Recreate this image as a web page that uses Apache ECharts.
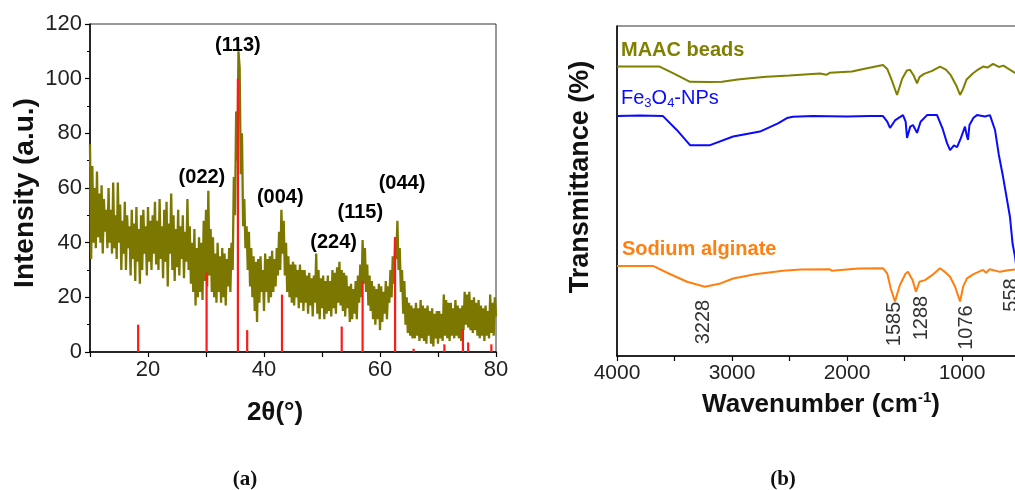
<!DOCTYPE html>
<html>
<head>
<meta charset="utf-8">
<script src="https://cdn.jsdelivr.net/npm/echarts@6/dist/echarts.min.js"></script>
<style>
html,body{margin:0;padding:0;background:#fff;}
#c{width:1015px;height:490px;}
</style>
</head>
<body>
<div id="c"></div>
<script>
// ---------- (a) XRD ----------
var xrdStart = 10;   // 2theta of first sample
var xrdStep = 0.2;   // scan step
var xrdIntensity = [
  76,34,68,40,60, 38,66,42,58,40, 61,36,56,44,52, 38,60,40,52,36,
  62,38,50,34,62, 40,54,30,48,36, 55,30,50,38,46, 28,52,34,47,26,
  53,33,45,25,50, 30,52,36,46,28, 53,33,48,30,50, 36,55,32,48,30,
  56,34,46,27,52, 33,55,24,47,36, 58,30,50,26,45, 31,52,28,46,34,
  50,27,44,33,56, 30,46,25,40,22, 45,17,38,20,42, 22,40,19,48,26,
  52,24,59,28,45, 22,42,20,36,18, 40,22,35,18,38, 20,36,17,34,24,
  38,22,40,30,64, 50,88,70,110,104, 65,80,46,56,38, 46,30,44,24,38,
  20,35,15,33,11, 34,18,35,22,30, 15,36,22,34,18, 35,20,37,22,34,
  24,38,28,44,30, 52,36,48,28,40, 22,35,20,32,18, 33,17,32,20,30,
  16,32,18,30,15, 30,18,28,14,29, 17,27,13,28,18, 36,14,30,12,27,
  16,28,12,26,14, 28,15,26,13,30, 16,29,14,31,18, 33,17,30,15,29,
  13,28,16,24,11, 25,12,23,14,26, 12,28,18,32,20, 41,25,38,22,32,
  17,28,15,26,12, 24,10,23,12,25, 8,24,11,22,14, 26,12,24,18,30,
  20,35,25,42,34, 48,30,38,22,30, 14,26,10,20,7, 18,6,17,5,16,
  5,18,6,16,4, 19,5,17,4,16, 3,17,6,15,3, 16,2,14,5,15,
  3,15,5,14,4, 21,6,19,5,18, 4,18,6,16,5, 19,6,17,5,16,
  4,17,8,22,10, 21,9,22,8,19, 7,20,8,18,6, 19,5,17,6,16,
  4,17,6,15,5, 21,7,18,6,20, 13
];
// reference pattern sticks (red)
var refAngle = [18.3, 30.1, 35.5, 37.1, 43.1, 53.4, 57.0, 62.6, 65.8, 71.1, 74.3, 75.2, 79.2];
var refIntensity = [10, 29, 100, 8, 21, 9.3, 26, 42, 1.2, 2.8, 8.4, 3.5, 2.8];
// Miller index annotations
var hklText = ['(022)', '(113)', '(004)', '(224)', '(115)', '(044)'];
var hklAngle = [29.3, 35.5, 42.8, 52.0, 56.6, 63.8];
var hklPos = [63.7, 112, 56.7, 40.2, 51.2, 61.8];

// ---------- (b) FTIR ----------
var maacWn = [4000,3630,3500,3365,3200,3087,2950,2843,2700,2500,2235,2180,2150,1957,1826,1687,1650,1610,1565,1520,1480,1452,1420,1391,1370,1330,1260,1191,1140,1100,1050,1017,990,960,904,860,817,780,730,680,640,609,539,500];
var maacT  = [87.7,87.7,85.5,83.1,83.0,83.1,83.8,84.2,84.6,85.0,85.6,85.2,85.8,86.2,87.2,88.2,87.0,83.5,79.1,84.0,86.5,86.7,85.0,82.6,84.5,85.5,86.4,87.7,86.8,85.2,82.0,79.1,81.0,83.8,85.7,86.8,87.7,87.4,88.5,87.6,88.0,87.3,85.8,85.0];
var feWn = [4000,3800,3600,3480,3365,3191,2990,2757,2600,2522,2470,2300,2000,1800,1687,1650,1626,1580,1513,1490,1478,1450,1426,1391,1360,1304,1217,1170,1130,1104,1070,1043,1010,974,960,948,935,900,870,800,757,713,680,643,583,560,539,520];
var feT  = [72.7,72.9,72.7,68.5,63.9,63.9,66.5,68.0,70.5,72.1,72.5,72.7,72.6,72.7,72.7,71.0,69.1,71.5,73.0,71.0,66.1,69.5,70.0,67.6,71.0,73.0,73.0,69.0,64.5,62.4,63.8,63.3,66.0,69.5,67.0,65.5,70.0,72.2,73.0,72.6,73.0,68.5,61.0,54.3,42.2,34.0,30.1,25.0];
var saWn = [4000,3687,3550,3391,3235,3100,2990,2800,2557,2400,2150,2130,1900,1687,1650,1620,1583,1540,1490,1470,1430,1400,1370,1322,1260,1191,1150,1104,1060,1017,990,957,900,817,790,760,670,600,539,500];
var saT  = [27.3,27.3,25.0,22.5,21.0,22.0,23.5,24.8,25.8,26.2,26.3,25.8,26.5,26.6,25.0,20.5,16.5,21.5,25.0,25.5,23.0,19.5,22.5,23.0,24.5,26.6,25.5,24.0,21.0,16.5,21.0,23.5,24.8,26.1,25.2,26.3,25.5,26.0,26.2,26.0];
// peak annotations
var peakText = ['3228', '1585', '1288', '1076', '558'];
var peakWn = [3252, 1583, 1350, 957, 569];
var peakPos = [10.3, 9.7, 11.5, 8.6, 18.5];

// ---------- build ----------
function zip(a, b) { return a.map(function (v, i) { return [v, b[i]]; }); }
var xrdData = xrdIntensity.map(function (v, i) {
  return [+(xrdStart + i * xrdStep).toFixed(2), v];
});
var FONT = '"Liberation Sans", Arial, sans-serif';
var OLIVE = '#7b7700';

var chart = echarts.init(document.getElementById('c'), null, { renderer: 'canvas' });
var option = {
  animation: false,
  backgroundColor: '#fff',
  grid: [
    { left: 90, top: 24, width: 406, height: 328, show: true, borderColor: '#333', borderWidth: 1,
      backgroundColor: 'transparent', containLabel: false, outerBoundsMode: 'none' },
    { left: 617, top: 26, width: 402.5, height: 330, show: true, borderColor: '#333', borderWidth: 1,
      backgroundColor: 'transparent', containLabel: false, outerBoundsMode: 'none' }
  ],
  xAxis: [
    {
      gridIndex: 0, type: 'value', min: 10, max: 80, interval: 10,
      axisLine: { lineStyle: { color: '#000', width: 1.5 } },
      axisTick: { length: 5, lineStyle: { color: '#000', width: 1.2 } },
      axisLabel: { margin: 7, color: '#222', fontSize: 22, fontFamily: FONT,
        formatter: function (v) { return v % 20 === 0 ? String(v) : ''; } },
      splitLine: { show: false }
    },
    {
      gridIndex: 1, type: 'value', min: 500, max: 4000, interval: 500, inverse: true,
      axisLine: { lineStyle: { color: '#000', width: 1.5 } },
      axisTick: { length: 5, lineStyle: { color: '#000', width: 1.2 } },
      axisLabel: { margin: 7, color: '#222', fontSize: 21, fontFamily: FONT,
        formatter: function (v) { return v % 1000 === 0 ? String(v) : ''; } },
      splitLine: { show: false }
    }
  ],
  yAxis: [
    {
      gridIndex: 0, type: 'value', min: 0, max: 120, interval: 20,
      axisLine: { show: true, lineStyle: { color: '#000', width: 1.5 } },
      axisTick: { show: true, length: 5, lineStyle: { color: '#000', width: 1.2 } },
      minorTick: { show: true, splitNumber: 2, length: 3, lineStyle: { color: '#000', width: 1 } },
      axisLabel: { margin: 8, color: '#222', fontSize: 22, fontFamily: FONT },
      splitLine: { show: false }
    },
    {
      gridIndex: 1, type: 'value', min: 0, max: 100,
      axisLine: { show: true, lineStyle: { color: '#000', width: 1.5 } },
      axisTick: { show: false }, axisLabel: { show: false },
      splitLine: { show: false }
    }
  ],
  series: [
    {
      type: 'line', xAxisIndex: 0, yAxisIndex: 0, data: xrdData, symbol: 'none',
      lineStyle: { color: OLIVE, width: 2.3, join: 'bevel' }, z: 2
    },
    {
      type: 'custom', xAxisIndex: 0, yAxisIndex: 0, z: 3,
      data: zip(refAngle, refIntensity),
      renderItem: function (params, api) {
        var p0 = api.coord([api.value(0), 0]);
        var p1 = api.coord([api.value(0), api.value(1)]);
        return { type: 'line', shape: { x1: p0[0], y1: p0[1], x2: p1[0], y2: p1[1] },
          style: { stroke: '#ff1a1a', lineWidth: 2.2 } };
      }
    },
    {
      type: 'scatter', xAxisIndex: 0, yAxisIndex: 0, z: 4, symbolSize: 0,
      itemStyle: { opacity: 1 },
      data: hklAngle.map(function (x, i) { return { value: [x, hklPos[i]], name: hklText[i] }; }),
      label: { show: true, position: 'inside', formatter: '{b}', color: '#000',
        fontSize: 20, fontWeight: 'bold', fontFamily: FONT }
    },
    {
      type: 'line', xAxisIndex: 1, yAxisIndex: 1, data: zip(maacWn, maacT), symbol: 'none',
      lineStyle: { color: '#7f7f00', width: 2 }
    },
    {
      type: 'line', xAxisIndex: 1, yAxisIndex: 1, data: zip(feWn, feT), symbol: 'none',
      lineStyle: { color: '#0a0aff', width: 2 }
    },
    {
      type: 'line', xAxisIndex: 1, yAxisIndex: 1, data: zip(saWn, saT), symbol: 'none',
      lineStyle: { color: '#ff7f10', width: 2 }
    },
    {
      type: 'scatter', xAxisIndex: 1, yAxisIndex: 1, symbolSize: 0, z: 4,
      itemStyle: { opacity: 1 },
      data: peakWn.map(function (x, i) { return { value: [x, peakPos[i]], name: peakText[i] }; }),
      label: { show: true, position: 'inside', rotate: 90, formatter: '{b}', color: '#333',
        fontSize: 20, fontFamily: FONT }
    }
  ],
  graphic: [
    { type: 'text', x: 25, y: 193, rotation: Math.PI / 2,
      style: { text: 'Intensity (a.u.)', font: 'bold 28px ' + FONT, fill: '#111', align: 'center', verticalAlign: 'middle' } },
    { type: 'text', x: 275, y: 413,
      style: { text: '2θ(°)', font: 'bold 26px ' + FONT, fill: '#111', align: 'center', verticalAlign: 'middle' } },
    { type: 'text', x: 581, y: 177, rotation: Math.PI / 2,
      style: { text: 'Transmittance (%)', font: 'bold 27px ' + FONT, fill: '#111', align: 'center', verticalAlign: 'middle' } },
    { type: 'text', x: 821, y: 405,
      style: { text: '{m|Wavenumber (cm}{s|-1}{m|)}', align: 'center', verticalAlign: 'middle',
        rich: {
          m: { fontSize: 26, fontWeight: 'bold', fontFamily: FONT, fill: '#111', color: '#111', lineHeight: 30 },
          s: { fontSize: 15, fontWeight: 'bold', fontFamily: FONT, fill: '#111', color: '#111', lineHeight: 30, verticalAlign: 'top', padding: [0, 0, 12, 0] }
        } } },
    { type: 'text', x: 621, y: 50,
      style: { text: 'MAAC beads', font: 'bold 20px ' + FONT, fill: '#7f7f00', align: 'left', verticalAlign: 'middle' } },
    { type: 'text', x: 621, y: 98,
      style: { text: '{n|Fe}{s|3}{n|O}{s|4}{n|-NPs}', align: 'left', verticalAlign: 'middle',
        rich: {
          n: { fontSize: 20, fontFamily: FONT, fill: '#0a0aff', color: '#0a0aff', lineHeight: 24 },
          s: { fontSize: 13, fontFamily: FONT, fill: '#0a0aff', color: '#0a0aff', lineHeight: 24, verticalAlign: 'bottom', padding: [8, 0, 0, 0] }
        } } },
    { type: 'text', x: 622, y: 249,
      style: { text: 'Sodium alginate', font: 'bold 20px ' + FONT, fill: '#ff7f10', align: 'left', verticalAlign: 'middle' } },
    { type: 'text', x: 245, y: 480,
      style: { text: '(a)', font: 'bold 21px "Liberation Serif", "DejaVu Serif", serif', fill: '#111', align: 'center', verticalAlign: 'middle' } },
    { type: 'text', x: 783, y: 480,
      style: { text: '(b)', font: 'bold 21px "Liberation Serif", "DejaVu Serif", serif', fill: '#111', align: 'center', verticalAlign: 'middle' } }
  ]
};
chart.setOption(option);
</script>
</body>
</html>
